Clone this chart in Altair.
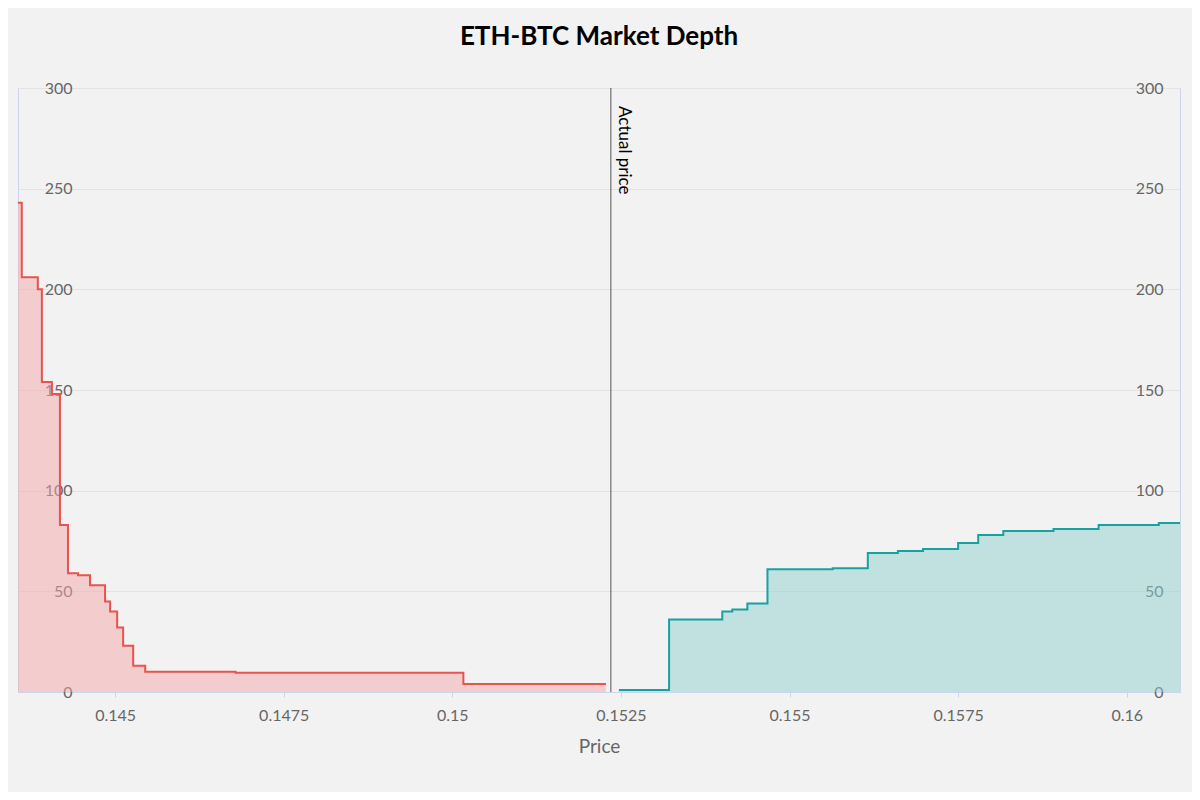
import altair as alt
import pandas as pd

# bids: price, cumulative volume (step-after)
bid_price = [0.14356, 0.143616, 0.143854, 0.143914, 0.144063, 0.144182, 0.144301, 0.144449,
             0.144628, 0.144851, 0.144926, 0.145030, 0.145119, 0.145268, 0.145446, 0.146786,
             0.150164, 0.152277]
bid_vol = [243, 206, 200, 154, 148, 83, 59, 58, 53, 45, 40, 32, 23, 13, 10, 9.5, 4, 4]

ask_price = [0.152470, 0.153214, 0.154003, 0.154152, 0.154375, 0.154673, 0.155640, 0.156161,
             0.156607, 0.156979, 0.157500, 0.157798, 0.158170, 0.158914, 0.159583, 0.160476, 0.16079]
ask_vol = [1, 36, 40, 41, 44, 61, 61.5, 69, 70, 71, 74, 78, 80, 81, 83, 84, 84]

actual_price = 0.152351

bids = pd.DataFrame({"price": bid_price, "vol": bid_vol})
asks = pd.DataFrame({"price": ask_price, "vol": ask_vol})

xs = alt.Scale(domain=[0.14356, 0.16079], nice=False, zero=False)
ys = alt.Scale(domain=[0, 300], nice=False)
ticks = [0.145, 0.1475, 0.15, 0.1525, 0.155, 0.1575, 0.16]

xax = alt.Axis(values=ticks, format="~g", title="Price", grid=False,
               domainColor="#ccd6eb", tickColor="#ccd6eb", labelColor="#666", labelFontSize=16,
               titleFontSize=19, titleColor="#666", titleFontWeight="normal", labelPadding=10,
               titlePadding=14)
left_ax = alt.Axis(orient="left", values=list(range(0, 301, 50)), title=None, grid=True,
                   gridColor="#e3e3e6", domainColor="#ccd6eb", ticks=False, labelColor="#666",
                   labelFontSize=16, labelPadding=-54, labelBaseline="middle")

bid_chart = alt.Chart(bids).mark_area(
    interpolate="step-after", color="#f4a8a8", opacity=0.5,
    line={"color": "#e8534f", "strokeWidth": 2}
).encode(
    x=alt.X("price:Q", scale=xs, axis=xax),
    y=alt.Y("vol:Q", scale=ys, axis=left_ax),
)

ask_chart = alt.Chart(asks).mark_area(
    interpolate="step-after", color="#8fd0d0", opacity=0.5,
    line={"color": "#17a2a2", "strokeWidth": 2}
).encode(
    x=alt.X("price:Q", scale=xs),
    y=alt.Y("vol:Q", scale=ys, axis=alt.Axis(orient="right", values=list(range(0, 301, 50)),
            title=None, grid=False, domainColor="#ccd6eb", ticks=False,
            labelColor="#666", labelFontSize=16, labelPadding=-17, labelAlign="right",
            labelBaseline="middle")),
)

line_df = pd.DataFrame({"price": [actual_price], "label": ["Actual price"], "vol": [300]})
rule = alt.Chart(line_df).mark_rule(color="#555", strokeWidth=1).encode(x=alt.X("price:Q", scale=xs))
label = alt.Chart(line_df).mark_text(angle=90, align="left", baseline="bottom", dx=18, dy=-4,
                                     fontSize=17, font="Lato", color="#000").encode(
    x=alt.X("price:Q", scale=xs), y=alt.Y("vol:Q", scale=ys, axis=left_ax), text="label:N")

left = alt.layer(bid_chart, rule, label)
chart = alt.layer(left, ask_chart).resolve_scale(y="independent").properties(
    width=1162, height=604,
    autosize=alt.AutoSizeParams(type="none"),
    padding={"left": 10, "top": 80, "right": 12, "bottom": 100},
    background="#f2f2f2",
    title=alt.TitleParams("ETH-BTC Market Depth", fontSize=26, font="Lato", fontWeight="bold",
                          color="#000", offset=30, anchor="middle"),
).configure_view(stroke=None).configure_axis(labelFont="Lato", titleFont="Lato")

chart.save("out.html", embed_options={"renderer": "svg", "actions": False})
